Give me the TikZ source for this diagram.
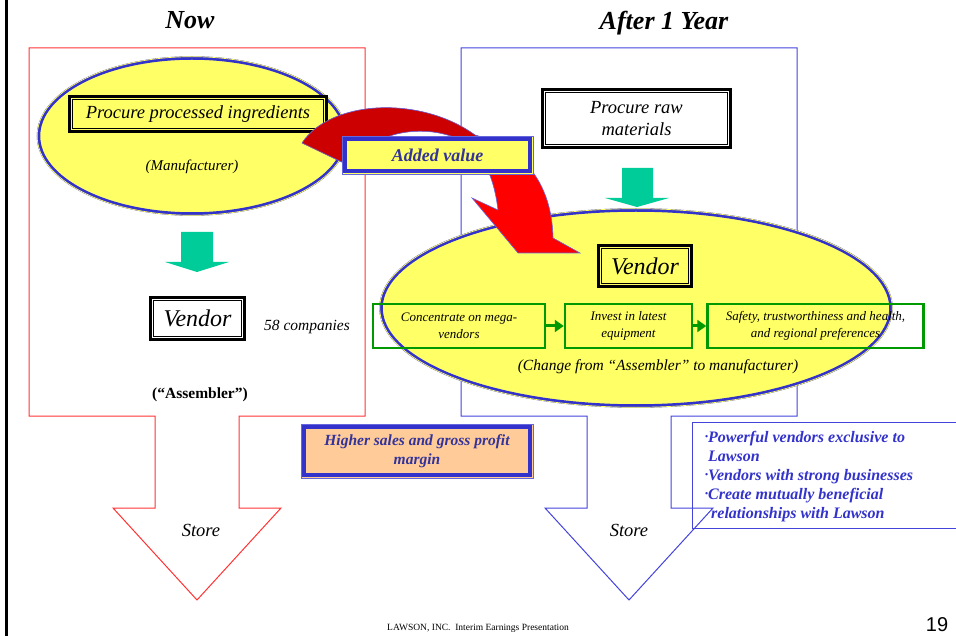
\documentclass[tikz,border=0pt]{standalone}
\usepackage{fontspec}
\setmainfont{Liberation Serif}
\newfontfamily\arialfont{Liberation Sans}
\usetikzlibrary{shapes.geometric,arrows.meta}
\definecolor{yel}{HTML}{FFFF66}
\definecolor{bl}{HTML}{3333CC}
\definecolor{lbl}{HTML}{6666DD}
\definecolor{boxbl}{HTML}{4444DD}
\definecolor{grn}{HTML}{009900}
\definecolor{teal2}{HTML}{00CC99}
\definecolor{peach}{HTML}{FFCC99}
\definecolor{navy2}{HTML}{333399}
\definecolor{dred}{HTML}{CC0000}
\definecolor{bred}{HTML}{FF0000}
\definecolor{ored}{HTML}{FF3333}
\newcommand\fs[2]{\fontsize{#1}{#2}\selectfont}
\newcommand\bul{\raisebox{0.35ex}{\fs{8.5}{8.5}\textbullet}}
\begin{document}
\begin{tikzpicture}[x=1pt,y=-1pt,
  every node/.style={inner sep=0pt, align=center},
  ell/.style={ellipse, fill=yel, draw=bl, line width=3.5pt, inner sep=0pt},
  blackbox/.style={draw=black, line width=3pt, inner sep=0pt, align=center},
  gbox/.style={draw=grn, line width=2.5pt, inner sep=0pt, align=center, font=\itshape\fs{13}{16.5}},
  garrow/.style={draw=grn, line width=3pt, -{Triangle[length=9pt,width=12pt]}},
  title/.style={font=\bfseries\itshape\fs{26}{30}},
]
\useasboundingbox (0,0) rectangle (956,636);
\fill[white] (0,0) rectangle (956,636);
\draw[line width=3pt] (6,0) -- (6,636);

% titles
\node[title] (tNow) at (190,20) {Now};
\node[title] (tAfter) at (664,23) {After 1 Year};

% outlines with store arrows
\draw[ored, line width=1pt] (29,48) -- (365,48) -- (365,416) -- (239,416) -- (239,508) -- (281,508) -- (197,600) -- (113,508) -- (155,508) -- (155,416) -- (29,416) -- cycle;
\draw[boxbl, line width=1pt] (461,48) -- (797,48) -- (797,416) -- (671,416) -- (671,508) -- (713,508) -- (629,600) -- (545,508) -- (587,508) -- (587,416) -- (461,416) -- cycle;

% left ellipse
\node[ell, minimum width=307pt, minimum height=156pt] (eL) at (192,136) {};
\draw[yel, line width=0.7pt] (eL.center) ellipse [x radius=154.8pt, y radius=79.3pt];
\node[blackbox, fill=yel, minimum width=257pt, minimum height=35pt, font=\itshape\fs{18.5}{22}] (pp) at (198,114) {Procure processed ingredients};
\draw[line width=1.2pt] ([shift={(4.5pt,-4.5pt)}]pp.north west) rectangle ([shift={(-4.5pt,4.5pt)}]pp.south east);
\node[font=\itshape\fs{15}{18}] (mf) at (192,167) {(Manufacturer)};

% left green block arrow
\fill[teal2] (181,232) -- (213,232) -- (213,262) -- (229,262) -- (197,272) -- (165,262) -- (181,262) -- cycle;

% left vendor
\node[blackbox, fill=white, minimum width=94pt, minimum height=42pt, font=\itshape\fs{24}{28}] (vL) at (197.5,318.5) {Vendor};
\draw[line width=1.2pt] ([shift={(4.5pt,-4.5pt)}]vL.north west) rectangle ([shift={(-4.5pt,4.5pt)}]vL.south east);
\node[font=\itshape\fs{15.5}{18}] (cnt) at (307,327) {58 companies};
\node[font=\bfseries\fs{15.5}{18}] (asm) at (200,395) {(“Assembler”)};
\node[font=\itshape\fs{18.5}{22}] (stL) at (201,530) {Store};

% right side
\node[blackbox, fill=white, minimum width=188pt, minimum height=58pt, font=\itshape\fs{18.5}{22}] (pr) at (636.5,118.5) {Procure raw\\materials};
\draw[line width=1.2pt] ([shift={(4.5pt,-4.5pt)}]pr.north west) rectangle ([shift={(-4.5pt,4.5pt)}]pr.south east);
\fill[teal2] (622,168) -- (653,168) -- (653,198) -- (669,198) -- (637,207) -- (605,198) -- (622,198) -- cycle;

\node[ell, minimum width=510pt, minimum height=196pt] (eR) at (636,308) {};
\draw[yel, line width=0.7pt] (eR.center) ellipse [x radius=256.3pt, y radius=99.3pt];
\node[blackbox, fill=yel, minimum width=93pt, minimum height=41pt, font=\itshape\fs{24}{28}] (vR) at (645,266) {Vendor};
\draw[line width=1.2pt] ([shift={(4.5pt,-4.5pt)}]vR.north west) rectangle ([shift={(-4.5pt,4.5pt)}]vR.south east);

\node[gbox, minimum width=172pt, minimum height=44pt] (g1) at (459,326) {Concentrate on mega-\\vendors};
\node[gbox, minimum width=127pt, minimum height=44pt] (g2) at (628.5,326) {Invest in latest\\equipment};
\node[gbox, minimum width=216pt, minimum height=44pt] (g3) at (815.5,326) {Safety, trustworthiness and health,\\and regional preferences};
\draw[garrow] (g1.east) -- (g2.west);
\draw[garrow] (g2.east) -- (g3.west);
\node[font=\itshape\fs{15.5}{18}] (chg) at (658,367) {(Change from “Assembler” to manufacturer)};
\node[font=\itshape\fs{18.5}{22}] (stR) at (629,530) {Store};

% red curved arrow
\def\redpath{(302,143) .. controls (330,100) and (420,95) .. (475,135) .. controls (530,150) and (552,190) .. (553,238) -- (580,253) -- (518,253) -- (472,198) -- (498,210) .. controls (495,185) and (488,165) .. (475,150) .. controls (450,125) and (380,120) .. (350,166) -- cycle}
\fill[bred] \redpath;
\begin{scope}
\clip (0,0) -- (956,0) -- (956,150) -- (342,150) -- (342,300) -- (0,300) -- cycle;
\fill[dred] \redpath;
\end{scope}
\draw[lbl, line width=0.6pt, line join=miter] \redpath;

% added value
\node[fill=yel, draw=lbl, line width=0.8pt, minimum width=191pt, minimum height=38pt, font=\bfseries\itshape\fs{18}{21}, text=navy2] (av) at (437.5,155) {Added value};
\draw[bl, line width=3.5pt] ([shift={(3.5pt,-3.5pt)}]av.north west) rectangle ([shift={(-3.5pt,3.5pt)}]av.south east);

% higher sales
\node[fill=peach, draw=lbl, line width=0.8pt, minimum width=232pt, minimum height=54pt, font=\bfseries\itshape\fs{15.5}{19}, text=navy2] (hs) at (417,451) {Higher sales and gross profit\\margin};
\draw[bl, line width=3.5pt] ([shift={(3.5pt,-3.5pt)}]hs.north west) rectangle ([shift={(-3.5pt,3.5pt)}]hs.south east);

% right text box
\coordinate (rbA) at (960,422);
\coordinate (rbB) at (692,422);
\coordinate (rbC) at (692,528);
\coordinate (rbD) at (960,528);
\draw[boxbl, line width=1pt] (rbA) -- (rbB) -- (rbC) -- (rbD);
\node[anchor=north west, align=left, font=\bfseries\itshape\fs{16}{19}, text=bl] (rt) at (705,431) {\bul Powerful vendors exclusive to\\
\hspace*{3pt}Lawson\\
\bul Vendors with strong businesses\\
\bul Create mutually beneficial\\
\hspace*{6pt}relationships with Lawson};

% footer
\node[font=\fs{9.5}{11}] (ft) at (478,628) {LAWSON, INC.\ \ Interim Earnings Presentation};
\node[font=\arialfont\fs{20}{22}] (pg) at (937,625) {19};
\end{tikzpicture}
\end{document}
